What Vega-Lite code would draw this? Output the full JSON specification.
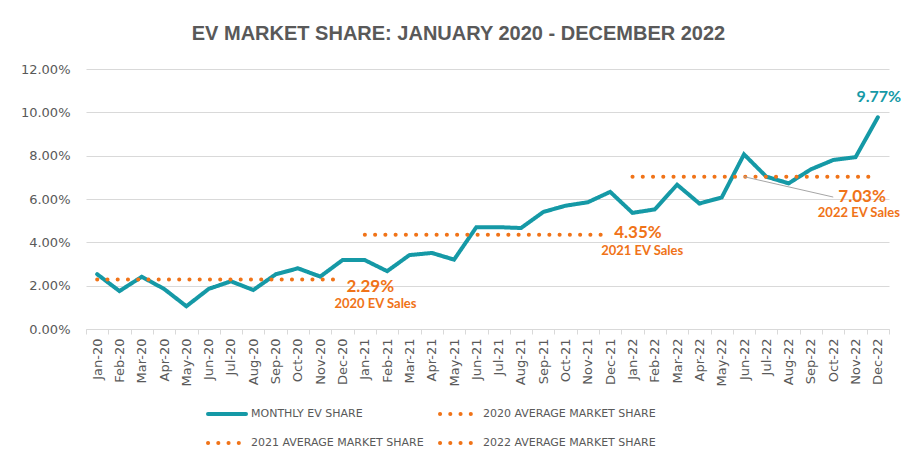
{
  "$schema": "https://vega.github.io/schema/vega-lite/v6.json",
  "autosize": {"type": "none"},
  "padding": {"left": 86, "top": 69, "right": 27, "bottom": 142},
  "width": 803,
  "height": 260,
  "background": "white",
  "title": {
    "text": "EV MARKET SHARE: JANUARY 2020 - DECEMBER 2022",
    "font": "Liberation Sans",
    "fontSize": 20,
    "fontWeight": "bold",
    "color": "#595959",
    "anchor": "middle",
    "frame": "group",
    "dx": -29,
    "offset": 19
  },
  "datasets": {
    "lines": [
      {"month": "Jan-20", "series": "Monthly EV Share", "share": 0.0253},
      {"month": "Feb-20", "series": "Monthly EV Share", "share": 0.0175},
      {"month": "Mar-20", "series": "Monthly EV Share", "share": 0.0241},
      {"month": "Apr-20", "series": "Monthly EV Share", "share": 0.0185},
      {"month": "May-20", "series": "Monthly EV Share", "share": 0.0105},
      {"month": "Jun-20", "series": "Monthly EV Share", "share": 0.0185},
      {"month": "Jul-20", "series": "Monthly EV Share", "share": 0.022},
      {"month": "Aug-20", "series": "Monthly EV Share", "share": 0.018},
      {"month": "Sep-20", "series": "Monthly EV Share", "share": 0.0252},
      {"month": "Oct-20", "series": "Monthly EV Share", "share": 0.028},
      {"month": "Nov-20", "series": "Monthly EV Share", "share": 0.0242},
      {"month": "Dec-20", "series": "Monthly EV Share", "share": 0.0318},
      {"month": "Jan-21", "series": "Monthly EV Share", "share": 0.0318},
      {"month": "Feb-21", "series": "Monthly EV Share", "share": 0.0267},
      {"month": "Mar-21", "series": "Monthly EV Share", "share": 0.0341},
      {"month": "Apr-21", "series": "Monthly EV Share", "share": 0.0351},
      {"month": "May-21", "series": "Monthly EV Share", "share": 0.032},
      {"month": "Jun-21", "series": "Monthly EV Share", "share": 0.047},
      {"month": "Jul-21", "series": "Monthly EV Share", "share": 0.047},
      {"month": "Aug-21", "series": "Monthly EV Share", "share": 0.0466},
      {"month": "Sep-21", "series": "Monthly EV Share", "share": 0.054},
      {"month": "Oct-21", "series": "Monthly EV Share", "share": 0.0569},
      {"month": "Nov-21", "series": "Monthly EV Share", "share": 0.0585},
      {"month": "Dec-21", "series": "Monthly EV Share", "share": 0.0633},
      {"month": "Jan-22", "series": "Monthly EV Share", "share": 0.0536},
      {"month": "Feb-22", "series": "Monthly EV Share", "share": 0.0552},
      {"month": "Mar-22", "series": "Monthly EV Share", "share": 0.0666},
      {"month": "Apr-22", "series": "Monthly EV Share", "share": 0.0579},
      {"month": "May-22", "series": "Monthly EV Share", "share": 0.0607},
      {"month": "Jun-22", "series": "Monthly EV Share", "share": 0.0806},
      {"month": "Jul-22", "series": "Monthly EV Share", "share": 0.0703},
      {"month": "Aug-22", "series": "Monthly EV Share", "share": 0.0672},
      {"month": "Sep-22", "series": "Monthly EV Share", "share": 0.0737},
      {"month": "Oct-22", "series": "Monthly EV Share", "share": 0.078},
      {"month": "Nov-22", "series": "Monthly EV Share", "share": 0.0793},
      {"month": "Dec-22", "series": "Monthly EV Share", "share": 0.0977},
      {"month": "Jan-20", "series": "2020 Average Market Share", "share": 0.0229},
      {"month": "Feb-20", "series": "2020 Average Market Share", "share": 0.0229},
      {"month": "Mar-20", "series": "2020 Average Market Share", "share": 0.0229},
      {"month": "Apr-20", "series": "2020 Average Market Share", "share": 0.0229},
      {"month": "May-20", "series": "2020 Average Market Share", "share": 0.0229},
      {"month": "Jun-20", "series": "2020 Average Market Share", "share": 0.0229},
      {"month": "Jul-20", "series": "2020 Average Market Share", "share": 0.0229},
      {"month": "Aug-20", "series": "2020 Average Market Share", "share": 0.0229},
      {"month": "Sep-20", "series": "2020 Average Market Share", "share": 0.0229},
      {"month": "Oct-20", "series": "2020 Average Market Share", "share": 0.0229},
      {"month": "Nov-20", "series": "2020 Average Market Share", "share": 0.0229},
      {"month": "Dec-20", "series": "2020 Average Market Share", "share": 0.0229},
      {"month": "Jan-21", "series": "2021 Average Market Share", "share": 0.0435},
      {"month": "Feb-21", "series": "2021 Average Market Share", "share": 0.0435},
      {"month": "Mar-21", "series": "2021 Average Market Share", "share": 0.0435},
      {"month": "Apr-21", "series": "2021 Average Market Share", "share": 0.0435},
      {"month": "May-21", "series": "2021 Average Market Share", "share": 0.0435},
      {"month": "Jun-21", "series": "2021 Average Market Share", "share": 0.0435},
      {"month": "Jul-21", "series": "2021 Average Market Share", "share": 0.0435},
      {"month": "Aug-21", "series": "2021 Average Market Share", "share": 0.0435},
      {"month": "Sep-21", "series": "2021 Average Market Share", "share": 0.0435},
      {"month": "Oct-21", "series": "2021 Average Market Share", "share": 0.0435},
      {"month": "Nov-21", "series": "2021 Average Market Share", "share": 0.0435},
      {"month": "Dec-21", "series": "2021 Average Market Share", "share": 0.0435},
      {"month": "Jan-22", "series": "2022 Average Market Share", "share": 0.0703},
      {"month": "Feb-22", "series": "2022 Average Market Share", "share": 0.0703},
      {"month": "Mar-22", "series": "2022 Average Market Share", "share": 0.0703},
      {"month": "Apr-22", "series": "2022 Average Market Share", "share": 0.0703},
      {"month": "May-22", "series": "2022 Average Market Share", "share": 0.0703},
      {"month": "Jun-22", "series": "2022 Average Market Share", "share": 0.0703},
      {"month": "Jul-22", "series": "2022 Average Market Share", "share": 0.0703},
      {"month": "Aug-22", "series": "2022 Average Market Share", "share": 0.0703},
      {"month": "Sep-22", "series": "2022 Average Market Share", "share": 0.0703},
      {"month": "Oct-22", "series": "2022 Average Market Share", "share": 0.0703},
      {"month": "Nov-22", "series": "2022 Average Market Share", "share": 0.0703},
      {"month": "Dec-22", "series": "2022 Average Market Share", "share": 0.0703}
    ],
    "notes": [
      {"key": "2020", "month": "Dec-20", "share": 0.0229, "pct": "2.29%", "caption": "2020 EV Sales"},
      {"key": "2021", "month": "Dec-21", "share": 0.0435, "pct": "4.35%", "caption": "2021 EV Sales"},
      {"key": "2022", "month": "Dec-22", "share": 0.0703, "pct": "7.03%", "caption": "2022 EV Sales"},
      {"key": "last", "month": "Dec-22", "share": 0.0977, "pct": "9.77%", "caption": ""}
    ],
    "leader": [
      {"month": "Jun-22", "share": 0.0703},
      {"month": "Oct-22", "share": 0.0609}
    ]
  },
  "encoding": {
    "x": {
      "field": "month",
      "type": "ordinal",
      "sort": null,
      "scale": {
        "type": "band",
        "paddingInner": 0,
        "paddingOuter": 0,
        "domain": ["Jan-20","Feb-20","Mar-20","Apr-20","May-20","Jun-20","Jul-20","Aug-20","Sep-20","Oct-20","Nov-20","Dec-20","Jan-21","Feb-21","Mar-21","Apr-21","May-21","Jun-21","Jul-21","Aug-21","Sep-21","Oct-21","Nov-21","Dec-21","Jan-22","Feb-22","Mar-22","Apr-22","May-22","Jun-22","Jul-22","Aug-22","Sep-22","Oct-22","Nov-22","Dec-22"]
      },
      "bandPosition": 0.5,
      "axis": {
        "title": null,
        "labelAngle": 270,
        "labelFont": "DejaVu Sans",
        "labelFontSize": 13,
        "labelColor": "#595959",
        "labelPadding": 4,
        "tickBand": "extent",
        "tickColor": "#D9D9D9",
        "tickSize": 5,
        "domainColor": "#D9D9D9",
        "grid": false
      }
    },
    "y": {
      "field": "share",
      "type": "quantitative",
      "scale": {"domain": [0, 0.12]},
      "axis": {
        "title": null,
        "values": [0, 0.02, 0.04, 0.06, 0.08, 0.1, 0.12],
        "format": ".2%",
        "labelFont": "DejaVu Sans",
        "labelFontSize": 13,
        "labelColor": "#595959",
        "labelPadding": 16,
        "ticks": false,
        "domain": false,
        "gridColor": "#D9D9D9",
        "gridWidth": 1.2
      }
    }
  },
  "layer": [
    {
      "data": {"name": "lines"},
      "mark": {"type": "line", "strokeWidth": 4, "strokeCap": "round", "strokeJoin": "miter"},
      "encoding": {
        "color": {
          "field": "series",
          "type": "nominal",
          "scale": {
            "domain": ["Monthly EV Share", "2020 Average Market Share", "2021 Average Market Share", "2022 Average Market Share"],
            "range": ["#1599A6", "#F07318", "#F07318", "#F07318"]
          },
          "legend": {
            "title": null,
            "orient": "none",
            "legendX": 120,
            "legendY": 324,
            "direction": "horizontal",
            "columns": 2,
            "symbolType": "stroke",
            "symbolSize": 1444,
            "symbolStrokeWidth": 4,
            "labelFont": "DejaVu Sans",
            "labelFontSize": 11,
            "labelColor": "#595959",
            "labelOffset": 3,
            "labelExpr": "upper(datum.label)",
            "labelLimit": 300,
            "columnPadding": 8,
            "rowPadding": -2,
            "encode": {
              "symbols": {
                "update": {
                  "strokeCap": {"value": "round"},
                  "strokeDash": [
                    {"test": "datum.value == 'Monthly EV Share'", "value": [1, 0]},
                    {"value": [0.1, 7.2]}
                  ]
                }
              }
            }
          }
        },
        "strokeDash": {
          "field": "series",
          "type": "nominal",
          "scale": {
            "domain": ["Monthly EV Share", "2020 Average Market Share", "2021 Average Market Share", "2022 Average Market Share"],
            "range": [[1, 0], [0.1, 10.15], [0.1, 10.15], [0.1, 10.15]]
          }
        },
        "detail": {"field": "series"}
      }
    },
    {
      "data": {"name": "leader"},
      "mark": {"type": "line", "color": "#A6A6A6", "strokeWidth": 1},
      "encoding": {}
    },
    {
      "data": {"name": "notes"},
      "transform": [{"filter": "datum.key == '2020'"}],
      "layer": [
        {"mark": {"type": "text", "align": "left", "baseline": "middle", "dx": 4, "dy": 8, "font": "Lato", "fontSize": 17, "fontWeight": "bold", "color": "#F07318"}, "encoding": {"text": {"field": "pct"}}},
        {"mark": {"type": "text", "align": "center", "baseline": "middle", "dx": 33, "dy": 25, "font": "Lato", "fontSize": 13, "fontWeight": "bold", "color": "#F07318"}, "encoding": {"text": {"field": "caption"}}}
      ]
    },
    {
      "data": {"name": "notes"},
      "transform": [{"filter": "datum.key == '2021'"}],
      "layer": [
        {"mark": {"type": "text", "align": "left", "baseline": "middle", "dx": 4, "dy": -2, "font": "Lato", "fontSize": 17, "fontWeight": "bold", "color": "#F07318"}, "encoding": {"text": {"field": "pct"}}},
        {"mark": {"type": "text", "align": "center", "baseline": "middle", "dx": 32, "dy": 16, "font": "Lato", "fontSize": 13, "fontWeight": "bold", "color": "#F07318"}, "encoding": {"text": {"field": "caption"}}}
      ]
    },
    {
      "data": {"name": "notes"},
      "transform": [{"filter": "datum.key == '2022'"}],
      "layer": [
        {"mark": {"type": "text", "align": "right", "baseline": "middle", "dx": 8, "dy": 20, "font": "Lato", "fontSize": 17, "fontWeight": "bold", "color": "#F07318"}, "encoding": {"text": {"field": "pct"}}},
        {"mark": {"type": "text", "align": "center", "baseline": "middle", "dx": -19, "dy": 36, "font": "Lato", "fontSize": 13, "fontWeight": "bold", "color": "#F07318"}, "encoding": {"text": {"field": "caption"}}}
      ]
    },
    {
      "data": {"name": "notes"},
      "transform": [{"filter": "datum.key == 'last'"}],
      "mark": {"type": "text", "align": "center", "baseline": "middle", "dx": 1, "dy": -20, "font": "Lato", "fontSize": 16, "fontWeight": "bold", "color": "#1599A6"},
      "encoding": {"text": {"field": "pct"}}
    }
  ],
  "config": {
    "view": {"stroke": null}
  }
}
